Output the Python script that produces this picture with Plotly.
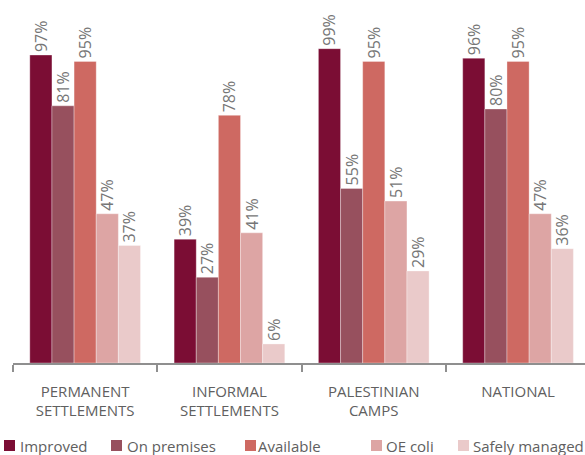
import plotly.graph_objects as go

categories = ["PERMANENT<br>SETTLEMENTS", "INFORMAL<br>SETTLEMENTS", "PALESTINIAN<br>CAMPS", "NATIONAL"]
series_names = ["Improved", "On premises", "Available", "OE coli", "Safely managed"]
improved = [97, 39, 99, 96]
on_premises = [81, 27, 55, 80]
available = [95, 78, 95, 95]
oe_coli = [47, 41, 51, 47]
safely_managed = [37, 6, 29, 36]
colors = ["#7B0D34", "#97505E", "#CE6962", "#DDA5A4", "#EACACA"]

series_values = [improved, on_premises, available, oe_coli, safely_managed]

W, H = 585, 455
ML, MR, MT, MB = 13, 0, 5, 92
plot_w = W - ML - MR
plot_h = H - MT - MB
cat_px = 144.3
px_per_pct = 3.175

fig = go.Figure()
for name, vals, col in zip(series_names, series_values, colors):
    fig.add_trace(go.Bar(
        name=name, x=categories, y=vals,
        marker=dict(color=col, line=dict(color="rgba(255,255,255,0.55)", width=0.6)),
        text=[f"{v}%" for v in vals], textposition="outside", textangle=-90,
        constraintext="none", cliponaxis=False,
        textfont=dict(family="Open Sans", size=16, color="#767676"),
        showlegend=False, hoverinfo="skip",
    ))

# custom legend (real text)
leg_sq_px = [4, 111, 245, 371, 458]
leg_tx_px = [19, 126, 257, 385, 472]
leg_cy = 445.5
sq = 11

def px2x(p):
    return (p - ML) / plot_w

def py2y(p):
    return (H - MB - p) / plot_h

shapes = []
annotations = []
for name, col, sx, tx in zip(series_names, colors, leg_sq_px, leg_tx_px):
    shapes.append(dict(type="rect", xref="paper", yref="paper",
                       x0=px2x(sx), x1=px2x(sx + sq),
                       y0=py2y(leg_cy + sq / 2), y1=py2y(leg_cy - sq / 2),
                       fillcolor=col, line=dict(width=0)))
    annotations.append(dict(xref="paper", yref="paper", x=px2x(tx), y=py2y(leg_cy),
                            xanchor="left", yanchor="middle", text=name, showarrow=False,
                            font=dict(family="Open Sans", size=15, color="#606060"),
                            borderpad=0))

fig.update_layout(
    width=W, height=H,
    margin=dict(l=ML, r=MR, t=MT, b=MB, pad=0),
    paper_bgcolor="white", plot_bgcolor="white",
    barmode="group", bargap=0.233, bargroupgap=0,
    font=dict(family="Open Sans", color="#606060"),
    xaxis=dict(
        type="category", range=[-0.5, -0.5 + plot_w / cat_px],
        showline=True, linecolor="#8f8f8f", linewidth=1.5,
        ticks="outside", tickson="boundaries", ticklen=7, tickcolor="#8f8f8f", tickwidth=1.5,
        tickfont=dict(family="Open Sans", size=15, color="#606060"),
        ticklabelstandoff=14,
        showgrid=False, zeroline=False, fixedrange=True,
    ),
    yaxis=dict(range=[0, plot_h / px_per_pct], visible=False, fixedrange=True),
    shapes=shapes, annotations=annotations,
    showlegend=False,
)

fig.write_html("out.html", config={"displayModeBar": False},
               post_script="document.body.style.margin='0';document.body.style.overflow='hidden';")
